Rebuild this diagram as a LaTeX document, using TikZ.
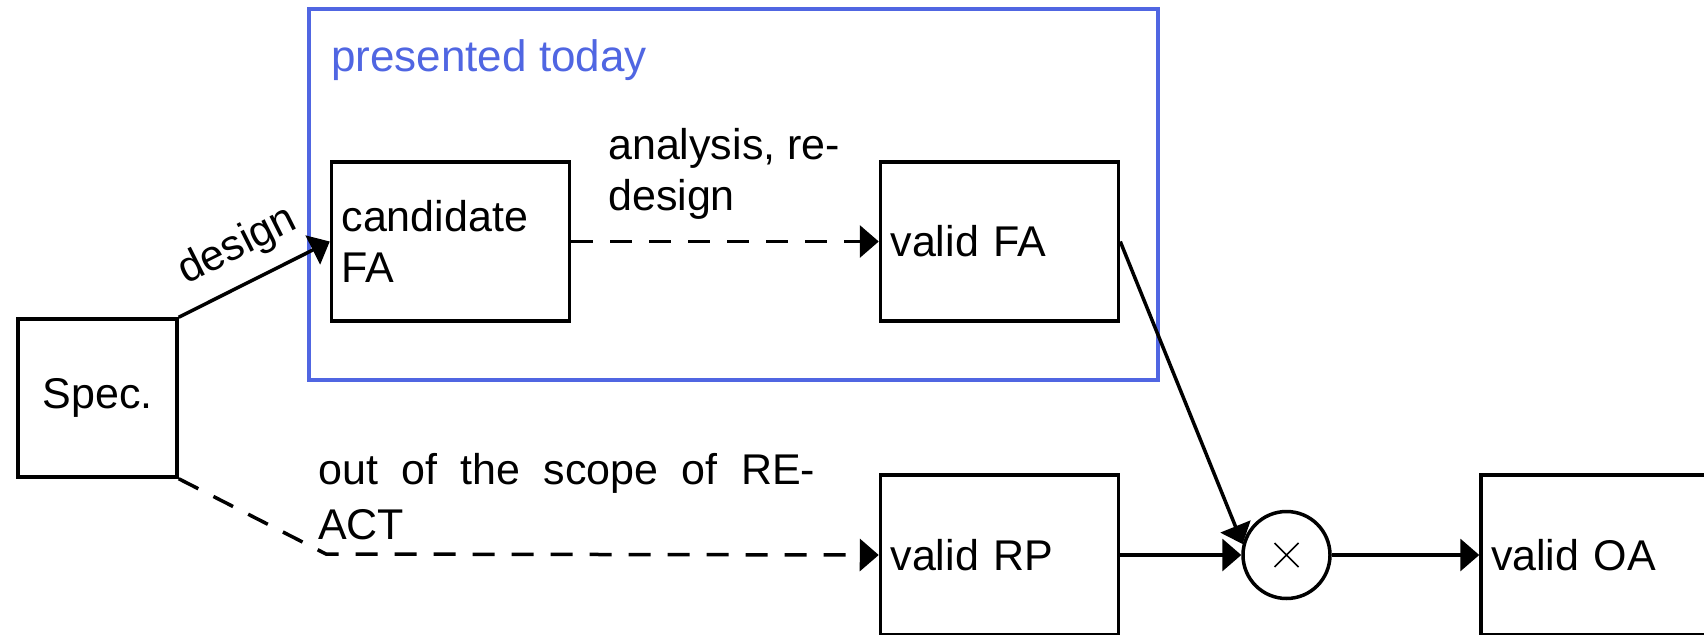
\documentclass[tikz,border=0pt]{standalone}
\usepackage{fontspec}
\setmainfont{Liberation Sans}
\usetikzlibrary{arrows.meta}
\definecolor{scopeblue}{RGB}{80,102,226}
\begin{document}
\begin{tikzpicture}[x=1pt,y=-1pt,
  font=\fontsize{43}{51}\selectfont,
  box/.style={draw,line width=3.5pt,rectangle,minimum height=159pt,inner sep=0pt},
  leftbox/.style={box,minimum width=238pt,text width=218pt,align=left},
  conn/.style={line width=3.5pt,-{Triangle[length=19pt,width=32pt]}},
  dashline/.style={dash pattern=on 22pt off 17pt},
  timescircle/.style={draw,circle,line width=3.5pt,minimum size=87pt,inner sep=0pt,
    path picture={
      \draw[line width=1.6pt]
        ([xshift=-12pt,yshift=-12pt]path picture bounding box.center) --
        ([xshift=12pt,yshift=12pt]path picture bounding box.center)
        ([xshift=-12pt,yshift=12pt]path picture bounding box.center) --
        ([xshift=12pt,yshift=-12pt]path picture bounding box.center);
    }}
]
\useasboundingbox (0,0) rectangle (1704,634);
% scope frame
\node[draw=scopeblue,line width=4pt,minimum width=849pt,minimum height=371pt,inner sep=0pt] (scope) at (733.5,194.5) {};
\node[anchor=base west,text=scopeblue,inner sep=0pt,font=\fontsize{44}{51}\selectfont] (scopelabel) at (331,71) {presented today};
% boxes
\node[box,minimum width=159pt,minimum height=158pt] (spec) at (97.5,398) {Spec.};
\node[leftbox] (cand) at (450.5,241.5) {candidate\\FA};
\node[leftbox] (vfa) at (999.5,241.5) {valid FA};
\node[leftbox,minimum height=160pt] (vrp) at (999.5,555) {valid RP};
\node[leftbox,minimum height=160pt] (voa) at (1600,555) {valid OA};
\node[timescircle] (circ) at (1286.5,555) {};
\coordinate (bend) at (326,554);
% labels
\node[anchor=north west,inner sep=0pt,align=left] (alabel) at (608,128) {analysis, re-\\design};
\node[anchor=north west,inner sep=0pt,align=left,font=\fontsize{43}{55}\selectfont] (olabel) at (318,453) {\makebox[497pt][s]{out of the scope of RE-}\\ACT};
% connectors
\draw[conn] (spec.north east) -- node[sloped,above=15pt,pos=0.5,inner sep=0pt] (dlabel) {design} (cand.west);
\draw[conn,dashline] (cand.east) -- (vfa.west);
\draw[conn,dashline] (spec.south east) -- (bend) -- (vrp.west);
\draw[conn] (vfa.east) -- (circ.166);
\draw[conn] (vrp.east) -- (circ.west);
\draw[conn] (circ.east) -- (voa.west);
\end{tikzpicture}
\end{document}
